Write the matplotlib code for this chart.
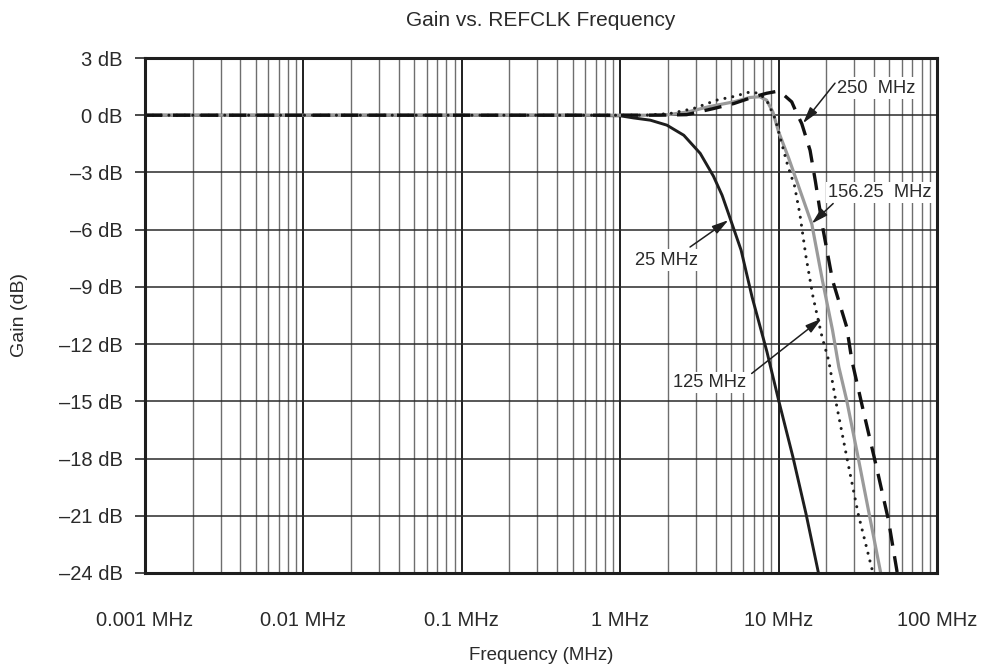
import matplotlib
matplotlib.use("Agg")
import matplotlib.pyplot as plt
from matplotlib.ticker import FixedLocator, LogLocator, NullFormatter

plt.rcParams['font.family'] = ['Liberation Sans', 'DejaVu Sans']

# ---- data (frequency in MHz, gain in dB) ----
f_25 = [0.001, 0.5, 1.0, 1.21, 1.55, 1.97, 2.52, 3.2, 3.88, 4.4, 4.94, 5.8, 6.8, 8.44,
        10.0, 12.3, 14.9, 17.8]
g_25 = [0.0, 0.0, -0.03, -0.14, -0.26, -0.52, -1.05, -2.0, -3.2, -4.2, -5.4, -7.08, -9.53,
        -12.4, -14.94, -17.9, -20.9, -23.95]

f_125 = [0.001, 1.0, 1.5, 2.07, 2.9, 4.06, 5.2, 6.6, 7.6, 8.5, 9.5, 10.4, 11.4, 12.6, 13.6,
         14.9, 16.5, 18.8, 20.7, 23.1, 26.9, 31.8, 38.6, 39.5]
g_125 = [0.0, 0.0, 0.01, 0.09, 0.35, 0.79, 0.98, 1.22, 1.14, 0.7, -0.17, -1.4, -2.62, -3.7,
         -5.15, -7.43, -9.53, -11.62, -12.85, -15.1, -17.9, -20.9, -23.7, -24.0]

f_156 = [0.001, 1.0, 1.6, 1.97, 2.66, 3.6, 5.2, 6.6, 7.6, 8.4, 9.2, 10.0, 11.6, 14.0, 16.2,
         18.9, 21.9, 24.0, 26.9, 31.7, 37.3, 44.0]
g_156 = [0.0, 0.0, 0.0, 0.02, 0.17, 0.44, 0.7, 0.93, 0.97, 0.79, 0.17, -0.87, -2.27, -4.2,
         -5.7, -8.65, -11.27, -13.2, -14.94, -17.9, -20.9, -23.95]

f_250 = [0.001, 1.0, 1.8, 2.63, 3.88, 5.2, 6.95, 8.4, 9.6, 10.6, 12.1, 13.1, 14.0, 15.8,
         17.1, 18.9, 21.9, 26.9, 29.0, 34.2, 41.9, 49.3, 56.0]
g_250 = [0.0, 0.0, 0.005, 0.03, 0.35, 0.61, 0.96, 1.15, 1.24, 1.12, 0.7, 0.05, -0.44, -1.84,
         -3.5, -5.8, -8.65, -11.1, -12.85, -15.47, -18.6, -21.2, -23.95]

y_ticks = [3, 0, -3, -6, -9, -12, -15, -18, -21, -24]
y_labels = ["3 dB", "0 dB", "\u20133 dB", "\u20136 dB", "\u20139 dB", "\u201312 dB",
            "\u201315 dB", "\u201318 dB", "\u201321 dB", "\u201324 dB"]
x_ticks = [0.001, 0.01, 0.1, 1, 10, 100]
x_labels = ["0.001 MHz", "0.01 MHz", "0.1 MHz", "1 MHz", "10 MHz", "100 MHz"]

# annotation labels: (text, text-left-x, text-y, arrow tail, arrow tip)
ann_text = ["250  MHz", "156.25  MHz", "25 MHz", "125 MHz"]
ann_pos = [(23.3, 1.42), (20.5, -4.04), (1.24, -7.6), (2.15, -14.0)]
ann_tail = [(22.7, 1.68), (22.1, -4.63), (2.76, -6.91), (6.76, -13.54)]
ann_tip = [(14.26, -0.42), (16.2, -5.68), (4.82, -5.5), (18.7, -10.66)]

TXT = '#2a2a2a'
fig = plt.figure(figsize=(9.84, 6.66), dpi=100)
ax = fig.add_axes([145/984, 1 - 573/666, (937-145)/984, (573-58)/666])

ax.set_xscale('log')
ax.set_xlim(0.001, 100)
ax.set_ylim(-24, 3)

# grid
ax.xaxis.set_major_locator(FixedLocator(x_ticks))
ax.xaxis.set_minor_locator(LogLocator(base=10, subs=range(2, 10), numticks=20))
ax.xaxis.set_minor_formatter(NullFormatter())
ax.set_xticklabels(x_labels)
ax.set_yticks(y_ticks)
ax.set_yticklabels(y_labels)
ax.grid(which='major', axis='x', color='#1e1e1e', linewidth=1.4)
ax.grid(which='minor', axis='x', color='#6e6e6e', linewidth=1.0)
ax.grid(which='major', axis='y', color='#2a2a2a', linewidth=1.1)
ax.set_axisbelow(True)

ax.tick_params(axis='x', which='both', length=0, pad=27, labelsize=14.5, colors=TXT)
ax.tick_params(axis='y', which='major', length=7, width=1.2, direction='out', pad=9,
               labelsize=14.5, colors=TXT)
for s in ax.spines.values():
    s.set_linewidth(2.2)
    s.set_color('#1e1e1e')

# curves
ax.plot(f_25, g_25, color='#1e1e1e', lw=2.1)
ax.plot(f_156, g_156, color='#9a9a9a', lw=2.3)
ax.plot(f_125, g_125, color='#1e1e1e', lw=2.2, linestyle=(0, (0.01, 2.6)),
        dash_capstyle='round')
ax.plot(f_250, g_250, color='#111111', lw=2.4, linestyle=(0, (5.2, 3.2)))

bbox = dict(boxstyle='square,pad=0.12', fc='white', ec='none')
arrow = dict(arrowstyle='-|>,head_length=0.9,head_width=0.25', color='#1e1e1e', lw=1.1,
             mutation_scale=11, shrinkA=0, shrinkB=0)
for t, p, tl, tp in zip(ann_text, ann_pos, ann_tail, ann_tip):
    ax.text(p[0], p[1], t, fontsize=13.2, color=TXT, ha='left', va='center', bbox=bbox,
            zorder=5)
    ax.annotate("", xy=tp, xytext=tl, arrowprops=arrow, zorder=6)

fig.text(541/984, 1 - 20/666, "Gain vs. REFCLK Frequency", ha='center', va='center',
         fontsize=15, color=TXT)
fig.text(541/984, 1 - 655/666, "Frequency (MHz)", ha='center', va='center',
         fontsize=13.5, color=TXT)
fig.text(19/984, 1 - 315/666, "Gain (dB)", ha='center', va='center', rotation=90,
         fontsize=14, color=TXT)

fig.savefig("out.png", dpi=100)
